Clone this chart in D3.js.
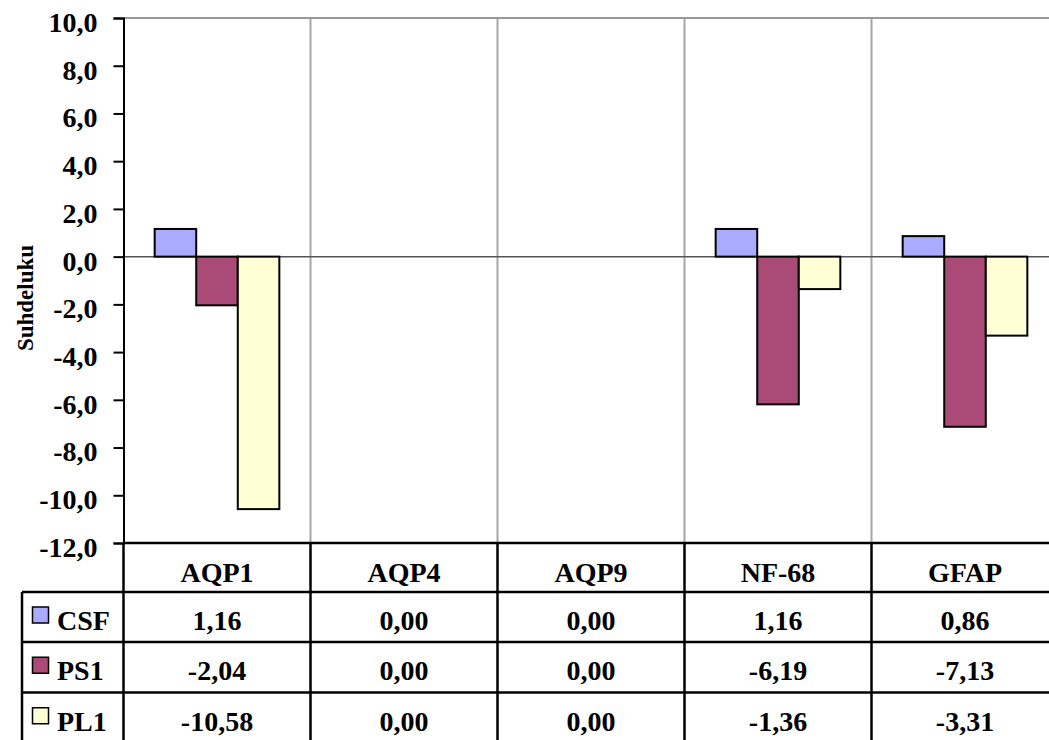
<!DOCTYPE html>
<html>
<head>
<meta charset="utf-8">
<script src="https://cdn.jsdelivr.net/npm/d3@7/dist/d3.min.js"></script>
<style>
  html, body { margin: 0; padding: 0; background: #fff; }
  svg { display: block; }
</style>
</head>
<body>
<svg id="chart" width="1049" height="740"></svg>
<script>
// Gene markers along the category axis
const categories = ["AQP1", "AQP4", "AQP9", "NF-68", "GFAP"];
// Series names shown in the data table legend
const seriesNames = ["CSF", "PS1", "PL1"];
// Relative expression per series, one value per marker
const csfValues = [1.16, 0.00, 0.00, 1.16, 0.86];
const ps1Values = [-2.04, 0.00, 0.00, -6.19, -7.13];
const pl1Values = [-10.58, 0.00, 0.00, -1.36, -3.31];
// Value axis ticks
const yTicks = [10, 8, 6, 4, 2, 0, -2, -4, -6, -8, -10, -12];
const yTitle = "Suhdeluku";

const seriesValues = [csfValues, ps1Values, pl1Values];
const colors = ["#aaaaff", "#aa4a77", "#ffffd5"];
const FONT = "'Liberation Serif', 'Times New Roman', serif";

const fi = d3.formatLocale({ decimal: ",", thousands: " ", grouping: [3], currency: ["", ""], minus: "-" });
const fmtTick = fi.format(".1f");
const fmtVal = fi.format(".2f");

const svg = d3.select("#chart");

function styleText(sel, size) {
  return sel.style("font-family", FONT).style("font-weight", "bold")
    .style("font-size", size + "px").style("fill", "#000");
}

const plotLeft = 123.5, plotTop = 18, plotBottom = 543;
const catStep = 187;

const x = d3.scaleBand().domain(categories).range([plotLeft, plotLeft + catStep * categories.length]).paddingInner(0).paddingOuter(0);
const xs = d3.scaleBand().domain(seriesNames).range([0, x.bandwidth()]).paddingInner(0).paddingOuter(0.75);
const y = d3.scaleLinear().domain([-12, 10]).range([plotBottom, plotTop]);

// vertical category separators in the plot area
svg.append("g").selectAll("line").data(categories.slice(1)).join("line")
  .attr("x1", d => x(d)).attr("x2", d => x(d))
  .attr("y1", plotTop).attr("y2", plotBottom)
  .attr("stroke", "#a6a6a6").attr("stroke-width", 2);

// top frame of the plot area
svg.append("line").attr("x1", plotLeft).attr("x2", 1049).attr("y1", y(10)).attr("y2", y(10))
  .attr("stroke", "#999").attr("stroke-width", 2);

// zero line
svg.append("line").attr("x1", plotLeft).attr("x2", 1049).attr("y1", y(0)).attr("y2", y(0))
  .attr("stroke", "#555").attr("stroke-width", 1.5);

// bars
const rows = [];
categories.forEach((c, i) => seriesNames.forEach((s, j) => rows.push({ c, s, j, v: seriesValues[j][i] })));
svg.append("g").selectAll("rect").data(rows.filter(d => d.v !== 0)).join("rect")
  .attr("x", d => x(d.c) + xs(d.s))
  .attr("width", xs.bandwidth())
  .attr("y", d => y(Math.max(0, d.v)))
  .attr("height", d => Math.abs(y(d.v) - y(0)))
  .attr("fill", d => colors[d.j])
  .attr("stroke", "#000").attr("stroke-width", 2);

// value axis
const yAxis = d3.axisLeft(y).tickValues(yTicks).tickFormat(fmtTick).tickSize(10).tickPadding(16);
const gy = svg.append("g").attr("transform", `translate(${plotLeft},0)`).call(yAxis);
gy.select(".domain").attr("stroke", "#000").attr("stroke-width", 2);
gy.selectAll(".tick line").attr("stroke", "#000").attr("stroke-width", 2);
styleText(gy.selectAll(".tick text"), 28).attr("dy", "0.48em");

// axis title
styleText(svg.append("text"), 23).attr("transform", "translate(33,298) rotate(-90)")
  .attr("text-anchor", "middle").text(yTitle);

// data table
const legendLeft = 22;
const rowTops = [543, 592, 642, 692.5, 743];
const right = 1060;
const tg = svg.append("g");

// horizontal rules
tg.append("line").attr("x1", plotLeft).attr("x2", right).attr("y1", rowTops[0]).attr("y2", rowTops[0]).attr("stroke", "#000").attr("stroke-width", 2.5);
tg.selectAll("line.h").data(rowTops.slice(1)).join("line").attr("class", "h")
  .attr("x1", legendLeft).attr("x2", right).attr("y1", d => d).attr("y2", d => d)
  .attr("stroke", "#000").attr("stroke-width", 2.5);

// vertical rules
tg.append("line").attr("x1", legendLeft).attr("x2", legendLeft).attr("y1", rowTops[1]).attr("y2", 740).attr("stroke", "#000").attr("stroke-width", 2.5);
tg.selectAll("line.v").data(categories).join("line").attr("class", "v")
  .attr("x1", d => x(d)).attr("x2", d => x(d)).attr("y1", rowTops[0]).attr("y2", 740)
  .attr("stroke", "#000").attr("stroke-width", 2.5);

// header labels
styleText(tg.selectAll("text.cat").data(categories).join("text").attr("class", "cat"), 28)
  .attr("x", d => x(d) + x.bandwidth() / 2).attr("y", (rowTops[0] + rowTops[1]) / 2 + 14)
  .attr("text-anchor", "middle").text(d => d);

// series rows
seriesNames.forEach((s, j) => {
  const top = rowTops[j + 1], bot = rowTops[j + 2];
  const mid = (top + bot) / 2;
  tg.append("rect").attr("x", 32.5).attr("y", mid - 10).attr("width", 16).attr("height", 16)
    .attr("fill", colors[j]).attr("stroke", "#000").attr("stroke-width", 1.5);
  styleText(tg.append("text"), 28).attr("x", 57).attr("y", mid + 13).text(s);
  styleText(tg.selectAll(null).data(categories).join("text"), 28)
    .attr("x", d => x(d) + x.bandwidth() / 2).attr("y", mid + 13)
    .attr("text-anchor", "middle")
    .text((d, i) => fmtVal(seriesValues[j][i]));
});
</script>
</body>
</html>
